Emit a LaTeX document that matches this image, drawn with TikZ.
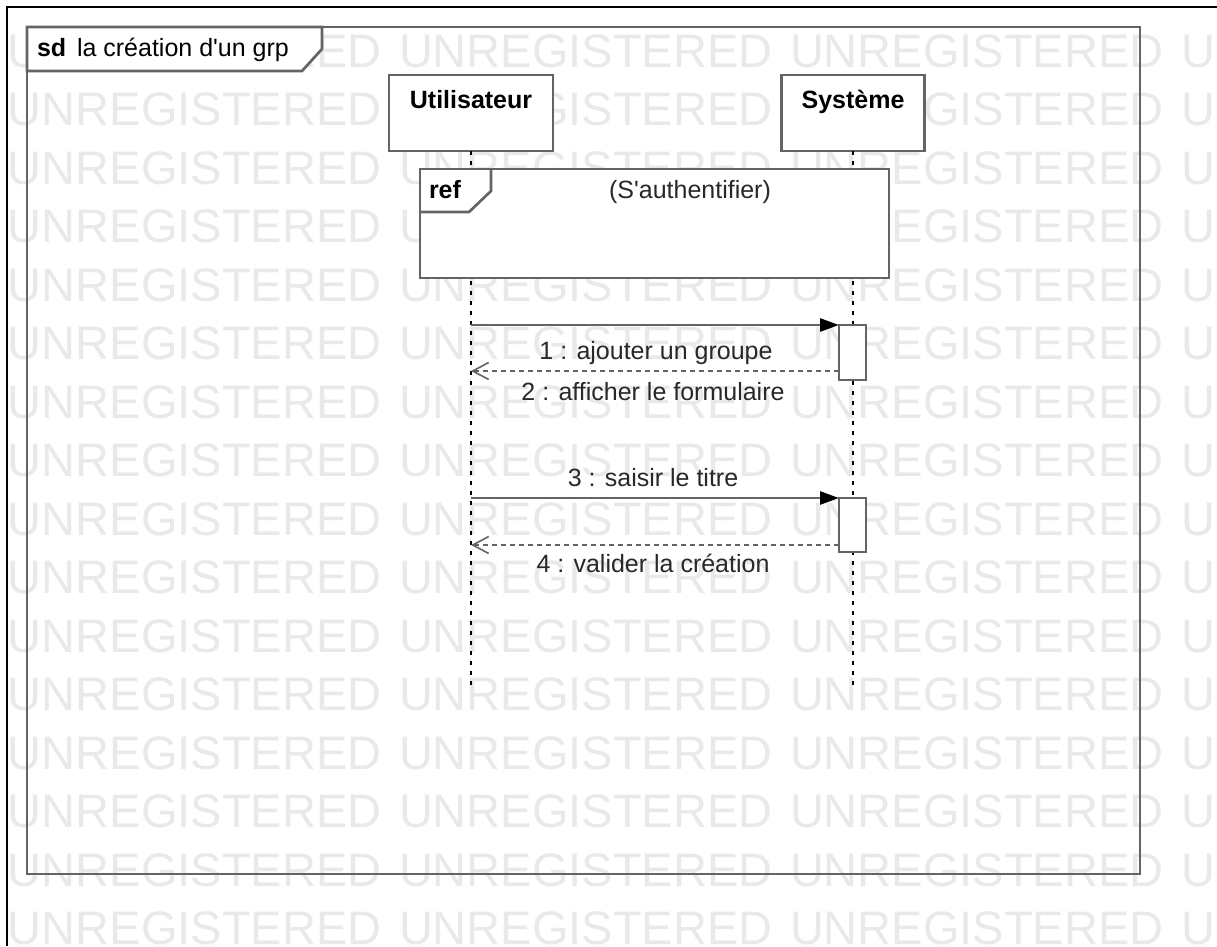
\documentclass[tikz,border=0pt]{standalone}
\usepackage{fontspec}
\setmainfont{Liberation Sans}[Ligatures=TeXOff]
\usetikzlibrary{arrows.meta}
\definecolor{edge}{RGB}{100,100,100}
\definecolor{wm}{RGB}{233,233,233}
\definecolor{ink}{RGB}{40,40,40}

\begin{document}
\begin{tikzpicture}[x=1pt,y=-1pt,
  every node/.style={inner sep=0pt, outer sep=0pt},
  lbl/.style={font=\fontsize{25}{30}\selectfont, text=ink, anchor=base},
  head/.style={font=\fontsize{25}{30}\selectfont\bfseries, text=black, anchor=base},
  wmtext/.style={font=\fontsize{47}{56}\selectfont, text=wm, anchor=base west},
  outline/.style={draw=edge, line width=2.7pt},
  lifebox/.style={outline, fill=white, minimum width=164pt, minimum height=76pt},
  lifeline/.style={draw=black, line width=1.8pt, dash pattern=on 4pt off 6pt},
  act/.style={outline, fill=white, minimum width=27pt, minimum height=55pt},
  call/.style={draw=edge, line width=2.7pt, -{Triangle[length=19pt,width=13pt,black]}},
  reply/.style={draw=edge, line width=2.2pt, dash pattern=on 5pt off 4pt,
    -{Straight Barb[length=16pt,width=17pt,line width=1.6pt]}},
]
\clip (0,0) rectangle (1217,946);
\fill[white] (0,0) rectangle (1217,946);

% background watermark grid
\foreach \r in {0,...,15}{
  \foreach \c in {0,...,3}{
    \node[wmtext] (wm-\r-\c) at ({8+391*\c},{67+58.5*\r}) {UNREGISTERED};
  }
}

% page border
\draw[line width=2pt] (7,946) -- (7,7) -- (1217,7);

% sequence diagram frame
\draw[outline] (27,27) rectangle (1140,874);
\draw[outline, fill=white] (27,27) -- (322,27) -- (322,49) -- (302,71) -- (27,71) -- cycle;
\node[head, anchor=base west] (sdkw) at (37,56) {sd};
\node[lbl, anchor=base west, text=black] (sdname) at (77,56) {la création d'un grp};

% participants
\node[lifebox] (U) at (471,113) {};
\node[lifebox, minimum width=143pt] (S) at (853,113) {};
\node[head] (Ulab) at (471,108) {Utilisateur};
\node[head] (Slab) at (853,108) {Système};

% lifelines
\coordinate (Uend) at (471,685);
\coordinate (Send) at (853,685);
\draw[lifeline] (U.south) -- (Uend);
\draw[lifeline] (S.south) -- (Send);

% interaction use
\node[outline, fill=white, minimum width=469pt, minimum height=109pt] (ref) at (654.5,223.5) {};
\draw[outline] (491,169) -- (491,191) -- (469,212) -- (420,212);
\node[head, anchor=base west] (refkw) at (429,198) {ref};
\node[lbl] (refname) at (690,198) {(S'authentifier)};

% activations
\node[act] (A1) at (852.5,352.5) {};
\node[act, minimum height=54pt] (A2) at (852.5,525) {};

% messages
\coordinate (U1) at (471,325);
\coordinate (U2) at (471,371);
\coordinate (U3) at (471,498);
\coordinate (U4) at (471,545);
\draw[call] (U1) -- (A1.north west);
\draw[reply] (A1.west |- U2) -- (U2);
\draw[call] (U3) -- (A2.north west);
\draw[reply] (A2.west |- U4) -- (U4);

\node[lbl] (L1) at (656,359) {1 : ajouter un groupe};
\node[lbl] (L2) at (653,400) {2 : afficher le formulaire};
\node[lbl] (L3) at (653,486) {3 : saisir le titre};
\node[lbl] (L4) at (653,572) {4 : valider la création};
\end{tikzpicture}
\end{document}
